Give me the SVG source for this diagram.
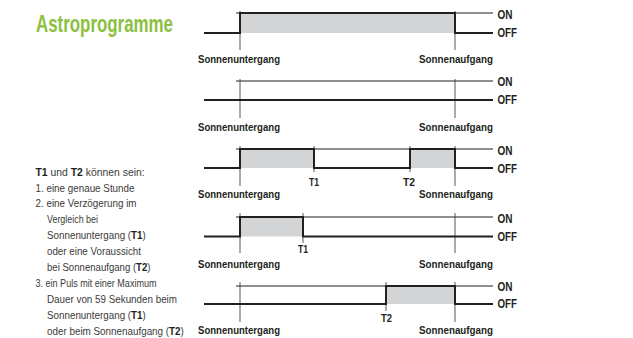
<svg xmlns="http://www.w3.org/2000/svg" width="633" height="338" viewBox="0 0 633 338">
<style>
.bg{fill:#fff}
.title{font-family:"Liberation Sans Narrow","Liberation Sans",sans-serif;font-weight:bold;font-size:24px;fill:#8cc03f}
.body{font-family:"Liberation Sans",sans-serif;font-size:10.5px;fill:#3a3a3a}
.b{font-weight:bold;fill:#231f20}
.lbl{font-family:"Liberation Sans Narrow","Liberation Sans",sans-serif;font-weight:bold;font-size:10px;fill:#231f20}
.st{font-family:"Liberation Sans Narrow","Liberation Sans",sans-serif;font-weight:bold;font-size:12.5px;fill:#231f20}
.wave{fill:none;stroke:#231f20;stroke-width:2;stroke-linejoin:miter}
.thin{fill:none;stroke:#231f20;stroke-width:1}
.vt{fill:none;stroke:#444;stroke-width:0.9}
.fill{fill:#d3d4d5}
</style>
<rect class="bg" x="0" y="0" width="633" height="338"/>
<g id="title"><text class="title" x="36" y="31.5" textLength="137" lengthAdjust="spacingAndGlyphs">Astroprogramme</text></g>
<g id="legend">
<text class="body" transform="translate(35.5,175.5) scale(0.99,1)" x="0" y="0"><tspan class="b">T1</tspan> und <tspan class="b">T2</tspan> können sein:</text>
<text class="body" x="35.5" y="191.5" textLength="99" lengthAdjust="spacingAndGlyphs">1. eine genaue Stunde</text>
<text class="body" x="35.5" y="207" textLength="101" lengthAdjust="spacingAndGlyphs">2. eine Verzögerung im</text>
<text class="body" x="47" y="222.5" textLength="51" lengthAdjust="spacingAndGlyphs">Vergleich bei</text>
<text class="body" transform="translate(47,238.5) scale(0.9375,1)" x="0" y="0">Sonnenuntergang (<tspan class="b">T1</tspan>)</text>
<text class="body" x="47" y="255" textLength="94" lengthAdjust="spacingAndGlyphs">oder eine Voraussicht</text>
<text class="body" transform="translate(47,271) scale(0.916,1)" x="0" y="0">bei Sonnenaufgang (<tspan class="b">T2</tspan>)</text>
<text class="body" x="35.5" y="287" textLength="121" lengthAdjust="spacingAndGlyphs">3. ein Puls mit einer Maximum</text>
<text class="body" x="47" y="302.5" textLength="130" lengthAdjust="spacingAndGlyphs">Dauer von 59 Sekunden beim</text>
<text class="body" transform="translate(47,318.5) scale(0.9375,1)" x="0" y="0">Sonnenuntergang (<tspan class="b">T1</tspan>)</text>
<text class="body" transform="translate(47,334.5) scale(0.939,1)" x="0" y="0">oder beim Sonnenaufgang (<tspan class="b">T2</tspan>)</text>
</g>
<g id="panel1">
<rect class="fill" x="240" y="13" width="215" height="20"/>
<path class="thin" d="M236,13 H493"/>
<path class="vt" d="M240,11 V50 M455,11 V50"/>
<path class="wave" d="M204,33 H240 V13 H455 V33 H493"/>
<text class="st" x="497.5" y="19" textLength="15" lengthAdjust="spacingAndGlyphs">ON</text>
<text class="st" x="497.5" y="36.7" textLength="19.5" lengthAdjust="spacingAndGlyphs">OFF</text>
<text class="lbl" x="198" y="62.5" textLength="82" lengthAdjust="spacingAndGlyphs">Sonnenuntergang</text>
<text class="lbl" x="419" y="62.5" textLength="74" lengthAdjust="spacingAndGlyphs">Sonnenaufgang</text>
</g>
<g id="panel2">
<path class="thin" d="M236,81 H493"/>
<path class="vt" d="M240,79 V118 M455,79 V118"/>
<path class="wave" d="M204,100 H493"/>
<text class="st" x="497.5" y="86" textLength="15" lengthAdjust="spacingAndGlyphs">ON</text>
<text class="st" x="497.5" y="104.3" textLength="19.5" lengthAdjust="spacingAndGlyphs">OFF</text>
<text class="lbl" x="198" y="130.5" textLength="82" lengthAdjust="spacingAndGlyphs">Sonnenuntergang</text>
<text class="lbl" x="419" y="130.5" textLength="74" lengthAdjust="spacingAndGlyphs">Sonnenaufgang</text>
</g>
<g id="panel3">
<rect class="fill" x="240" y="149" width="74" height="19"/>
<rect class="fill" x="410" y="149" width="45" height="19"/>
<path class="thin" d="M236,149 H493"/>
<path class="vt" d="M240,146 V186 M455,146 V186 M314,146 V172 M410,146 V172"/>
<path class="wave" d="M204,168 H240 V149 H314 V168 H410 V149 H455 V168 H493"/>
<text class="st" x="497.5" y="155" textLength="15" lengthAdjust="spacingAndGlyphs">ON</text>
<text class="st" x="497.5" y="173.3" textLength="19.5" lengthAdjust="spacingAndGlyphs">OFF</text>
<text class="lbl" x="309" y="186" textLength="10" lengthAdjust="spacingAndGlyphs">T1</text>
<text class="lbl" x="403" y="186" textLength="12" lengthAdjust="spacingAndGlyphs">T2</text>
<text class="lbl" x="198" y="198" textLength="82" lengthAdjust="spacingAndGlyphs">Sonnenuntergang</text>
<text class="lbl" x="419" y="198" textLength="74" lengthAdjust="spacingAndGlyphs">Sonnenaufgang</text>
</g>
<g id="panel4">
<rect class="fill" x="240" y="217" width="63" height="19.5"/>
<path class="thin" d="M236,217 H493"/>
<path class="vt" d="M240,213 V253 M455,213 V253 M303,213 V243"/>
<path class="wave" d="M204,236.5 H240 V217 H303 V236.5 H493"/>
<text class="st" x="497.5" y="222.5" textLength="15" lengthAdjust="spacingAndGlyphs">ON</text>
<text class="st" x="497.5" y="240.7" textLength="19.5" lengthAdjust="spacingAndGlyphs">OFF</text>
<text class="lbl" x="298" y="253" textLength="10" lengthAdjust="spacingAndGlyphs">T1</text>
<text class="lbl" x="198" y="267.5" textLength="82" lengthAdjust="spacingAndGlyphs">Sonnenuntergang</text>
<text class="lbl" x="419" y="267.5" textLength="74" lengthAdjust="spacingAndGlyphs">Sonnenaufgang</text>
</g>
<g id="panel5">
<rect class="fill" x="386" y="286" width="69" height="18"/>
<path class="thin" d="M236,286 H493"/>
<path class="vt" d="M240,282 V322 M455,282 V322 M386,282 V311"/>
<path class="wave" d="M204,304 H386 V286 H455 V304 H493"/>
<text class="st" x="497.5" y="290.7" textLength="15" lengthAdjust="spacingAndGlyphs">ON</text>
<text class="st" x="497.5" y="308.3" textLength="19.5" lengthAdjust="spacingAndGlyphs">OFF</text>
<text class="lbl" x="381" y="321.5" textLength="11" lengthAdjust="spacingAndGlyphs">T2</text>
<text class="lbl" x="198" y="333.5" textLength="82" lengthAdjust="spacingAndGlyphs">Sonnenuntergang</text>
<text class="lbl" x="419" y="333.5" textLength="74" lengthAdjust="spacingAndGlyphs">Sonnenaufgang</text>
</g>
</svg>
